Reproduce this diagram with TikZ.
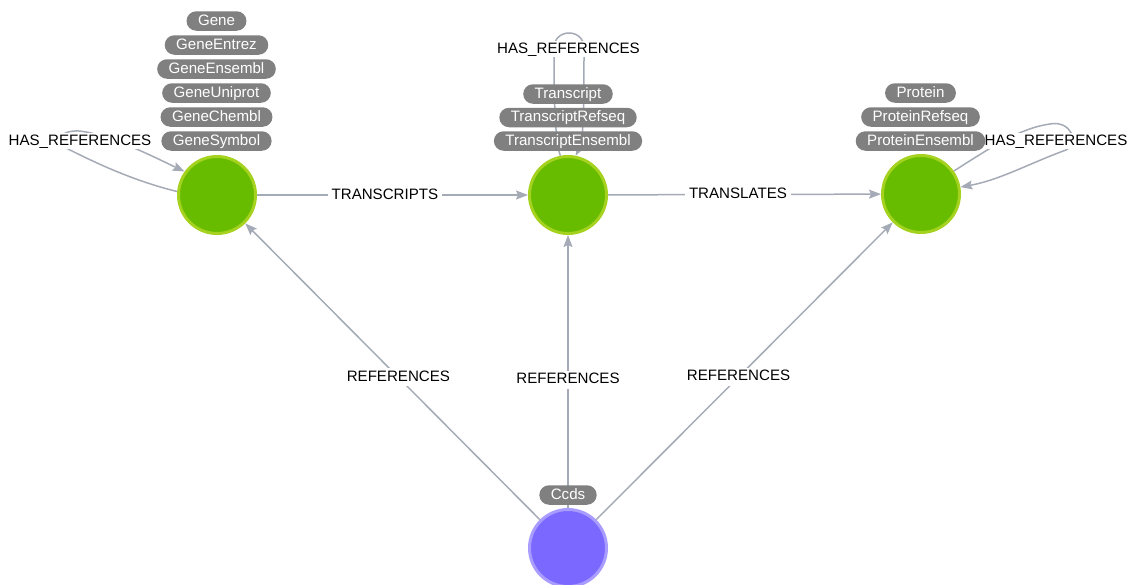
\documentclass[tikz,border=0pt]{standalone}
\usepackage{fontspec}
\setmainfont{Liberation Sans}
\usetikzlibrary{arrows.meta}
\definecolor{nodegreen}{HTML}{68BC00}
\definecolor{nodegreenrim}{HTML}{A4D21E}
\definecolor{nodepurple}{HTML}{7A68FF}
\definecolor{nodepurplerim}{HTML}{A99CFF}
\definecolor{pillgray}{HTML}{808080}
\definecolor{edgegray}{HTML}{A5ABB6}
\begin{document}
\begin{tikzpicture}[x=1pt,y=-1pt,
  entity/.style={circle, minimum size=77pt, inner sep=0pt, line width=3pt},
  greenentity/.style={entity, fill=nodegreen, draw=nodegreenrim},
  purpleentity/.style={entity, fill=nodepurple, draw=nodepurplerim},
  labelfont/.style={font=\fontsize{15.1}{18}\selectfont, text height=11pt, text depth=3pt},
  pill/.style={labelfont, rounded corners=9.75pt, fill=pillgray, text=white,
    minimum height=19.5pt, inner xsep=11.5pt, inner ysep=0pt},
  rel/.style={draw=edgegray, line width=1.5pt,
    -{Stealth[length=12pt,width=9pt,inset=2pt]}},
  rellabel/.style={labelfont, fill=white, text=black, inner xsep=4pt, inner ysep=2pt},
  looplabel/.style={rellabel, inner xsep=2pt, inner ysep=1pt},
]
\useasboundingbox (0,0) rectangle (1135,584);

% entities
\node[greenentity]  (gene)       at (217,195) {};
\node[greenentity]  (transcript) at (568,195) {};
\node[greenentity]  (protein)    at (921,194) {};
\node[purpleentity] (ccds)       at (568,548) {};

% relationships between entities
\draw[rel] (gene) -- node[rellabel, pos=0.472] (lblTranscripts) {TRANSCRIPTS} (transcript);
\draw[rel] (transcript) -- node[rellabel, pos=0.476] (lblTranslates) {TRANSLATES} (protein);
\draw[rel] (ccds) -- node[rellabel, pos=0.48] (lblRefGene) {REFERENCES} (gene);
\draw[rel] (ccds) -- node[rellabel, pos=0.47] (lblRefTranscript) {REFERENCES} (transcript);
\draw[rel] (ccds) -- node[rellabel, pos=0.48] (lblRefProtein) {REFERENCES} (protein);

% self loops
\draw[rel] (gene.175) .. controls (130,180) and (90,160) .. (66,148)
  .. controls (52,142) and (60,130) .. (79,131)
  .. controls (110,134) and (160,160) .. (gene.144);
\draw[rel] (transcript.101) .. controls (554,140) and (554,80) .. (554,48)
  .. controls (554,28) and (584,28) .. (584,48)
  .. controls (584,80) and (584,140) .. (transcript.79);
\draw[rel] (protein.35) .. controls (990,148) and (1020,128) .. (1050,124)
  .. controls (1071,120) and (1080,143) .. (1066,150)
  .. controls (1030,163) and (1000,180) .. (protein.10);

\node[looplabel] (lblGeneLoop)       at (80,141)   {HAS\_REFERENCES};
\node[looplabel] (lblTranscriptLoop) at (568.5,49) {HAS\_REFERENCES};
\node[looplabel] (lblProteinLoop)    at (1056,141) {HAS\_REFERENCES};

% label pills
\node[pill] (pGene)        at (216.5,21)  {Gene};
\node[pill] (pGeneEntrez)  at (216.5,45)  {GeneEntrez};
\node[pill] (pGeneEnsembl) at (216.5,69)  {GeneEnsembl};
\node[pill] (pGeneUniprot) at (216.5,93)  {GeneUniprot};
\node[pill] (pGeneChembl)  at (216.5,117) {GeneChembl};
\node[pill] (pGeneSymbol)  at (216.5,141) {GeneSymbol};

\node[pill] (pTranscript)         at (568,94)  {Transcript};
\node[pill] (pTranscriptRefseq)   at (568,117.5) {TranscriptRefseq};
\node[pill] (pTranscriptEnsembl)  at (568,141) {TranscriptEnsembl};

\node[pill] (pProtein)         at (920.5,93)  {Protein};
\node[pill] (pProteinRefseq)   at (920.5,117) {ProteinRefseq};
\node[pill] (pProteinEnsembl)  at (920.5,141) {ProteinEnsembl};

\node[pill] (pCcds) at (568,495) {Ccds};
\end{tikzpicture}
\end{document}
